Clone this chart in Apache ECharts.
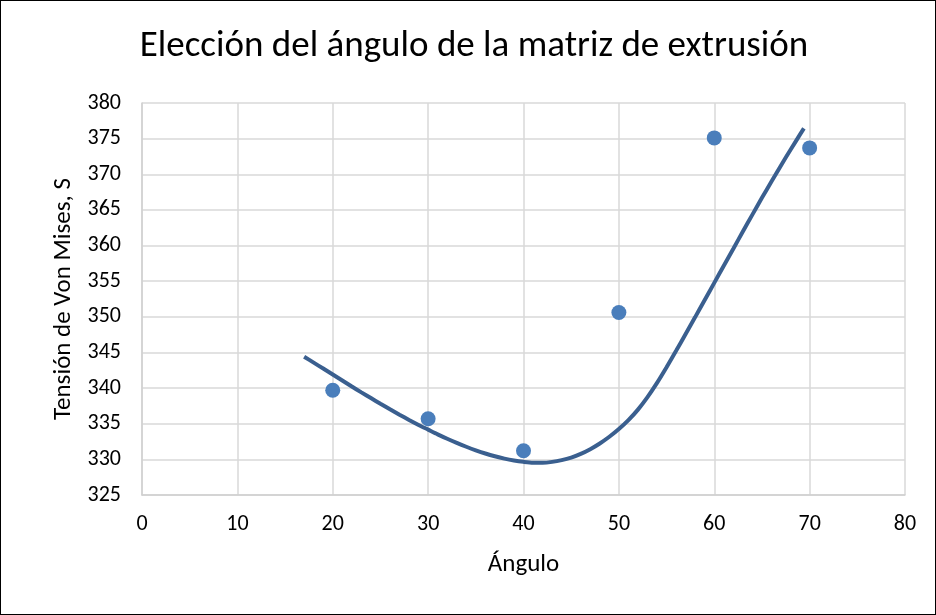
<!DOCTYPE html>
<html><head><meta charset="utf-8">
<script src="https://cdn.jsdelivr.net/npm/echarts@6/dist/echarts.min.js"></script>
<style>html,body{margin:0;padding:0;background:#fff}#c{width:936px;height:615px;box-sizing:border-box;border:1.5px solid #000}</style>
</head><body><div id="c"></div>
<script>
const title = 'Elección del ángulo de la matriz de extrusión';
const xTitle = 'Ángulo';
const yTitle = 'Tensión de Von Mises, S';
const angles = [20, 30, 40, 50, 60, 70];
const stress = [339.7, 335.7, 331.2, 350.6, 375.1, 373.7];
const curveX = [17, 18, 19, 20, 21, 22, 23, 24, 25, 26, 27, 28, 29, 30, 31, 32, 33, 34, 35, 36, 37, 38, 39, 40,
  41, 42, 43, 44, 45, 46, 47, 48, 49, 50, 51, 52, 53, 54, 55, 56, 57, 58, 59, 60, 61, 62, 63, 64, 65, 66, 67, 68, 69, 69.4];
const curveY = [344.40, 343.57, 342.74, 341.90, 341.06, 340.22, 339.40, 338.60, 337.80, 337.02, 336.26, 335.53, 334.83, 334.17,
  333.51, 332.89, 332.31, 331.77, 331.27, 330.82, 330.43, 330.10, 329.84, 329.65, 329.53, 329.53, 329.65, 329.89, 330.25,
  330.77, 331.43, 332.23, 333.17, 334.25, 335.50, 336.98, 338.73, 340.73, 342.93, 345.23, 347.58, 349.96, 352.36, 354.76,
  357.16, 359.56, 361.96, 364.34, 366.69, 368.99, 371.24, 373.44, 375.59, 376.43];

const font = 'Carlito, Calibri, Lato, sans-serif';
const chart = echarts.init(document.getElementById('c'));
chart.setOption({
  animation: false,
  title: {text: title, left: 468, textAlign: 'center', top: 22, textStyle: {fontFamily: font, fontSize: 37, fontWeight: 'normal', color: '#000'}},
  grid: {left: 141, right: 30, top: 102, bottom: 119},
  xAxis: {type: 'value', min: 0, max: 80, interval: 10,
    name: xTitle, nameLocation: 'middle', nameGap: 57,
    nameTextStyle: {fontFamily: font, fontSize: 25, color: '#000'},
    axisLine: {lineStyle: {color: '#d0d0d0', width: 1.5}}, axisTick: {show: false},
    axisLabel: {fontFamily: font, fontSize: 22, color: '#000', margin: 18},
    splitLine: {lineStyle: {color: '#d9d9d9', width: 1.5}}},
  yAxis: {type: 'value', min: 325, max: 380, interval: 5,
    name: yTitle, nameLocation: 'middle', nameGap: 63,
    nameTextStyle: {fontFamily: font, fontSize: 25, color: '#000'},
    axisLine: {show: true, lineStyle: {color: '#d0d0d0', width: 1.5}}, axisTick: {show: false},
    axisLabel: {fontFamily: font, fontSize: 22, color: '#000', margin: 21},
    splitLine: {lineStyle: {color: '#d9d9d9', width: 1.5}}},
  series: [
    {type: 'line', data: curveX.map((x, i) => [x, curveY[i]]), smooth: 0.25, showSymbol: false,
     lineStyle: {color: '#3a5f8f', width: 4}, z: 2},
    {type: 'scatter', data: angles.map((x, i) => [x, stress[i]]), symbolSize: 15,
     itemStyle: {color: '#4a7ebb', opacity: 1}, z: 3}
  ]
});
</script></body></html>
